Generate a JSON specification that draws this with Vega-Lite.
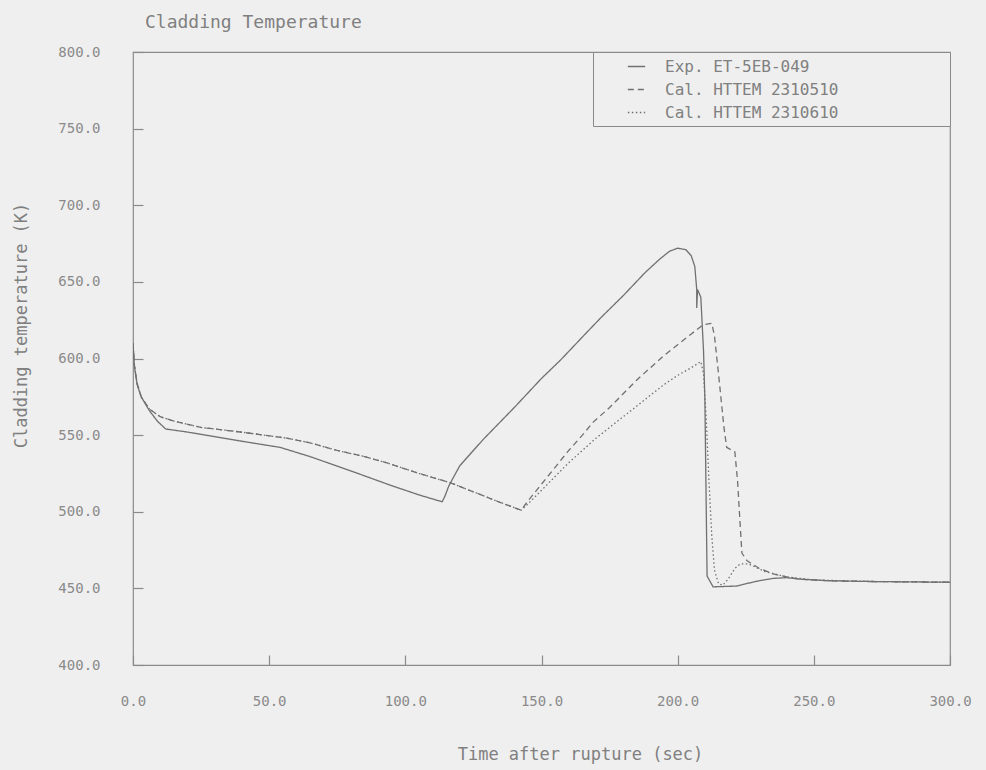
{
  "$schema": "https://vega.github.io/schema/vega-lite/v6.json",
  "autosize": {"type": "none"},
  "padding": {"left": 133, "top": 52, "right": 36, "bottom": 105},
  "width": 817,
  "height": 613,
  "background": "#efefef",
  "title": {
    "text": "Cladding Temperature",
    "anchor": "start",
    "frame": "group",
    "dx": 12,
    "offset": 13,
    "font": "DejaVu Sans Mono",
    "fontSize": 18,
    "fontWeight": "normal",
    "color": "#808080"
  },
  "config": {
    "view": {"stroke": "#8a8a8a", "strokeWidth": 1.2, "fill": "#efefef"},
    "axis": {
      "grid": false,
      "domain": false,
      "ticks": true,
      "zindex": 1,
      "offset": -10,
      "tickColor": "#8a8a8a",
      "tickWidth": 1.2,
      "tickSize": 10,
      "labelFlush": false,
      "labelFont": "DejaVu Sans Mono",
      "labelFontSize": 14,
      "labelColor": "#8a8a8a",
      "titleFont": "DejaVu Sans Mono",
      "titleFontSize": 17,
      "titleFontWeight": "normal",
      "titleColor": "#808080"
    },
    "legend": {
      "labelFont": "DejaVu Sans Mono",
      "labelFontSize": 16,
      "labelColor": "#808080"
    }
  },
  "data": {
    "values": [
      {"s": "Exp. ET-5EB-049", "t": 0, "T": 610},
      {"s": "Exp. ET-5EB-049", "t": 0.5, "T": 595},
      {"s": "Exp. ET-5EB-049", "t": 1.5, "T": 583},
      {"s": "Exp. ET-5EB-049", "t": 3, "T": 575},
      {"s": "Exp. ET-5EB-049", "t": 6, "T": 566},
      {"s": "Exp. ET-5EB-049", "t": 9, "T": 559},
      {"s": "Exp. ET-5EB-049", "t": 12, "T": 554},
      {"s": "Exp. ET-5EB-049", "t": 20, "T": 552},
      {"s": "Exp. ET-5EB-049", "t": 30, "T": 549},
      {"s": "Exp. ET-5EB-049", "t": 40, "T": 546},
      {"s": "Exp. ET-5EB-049", "t": 54, "T": 542},
      {"s": "Exp. ET-5EB-049", "t": 65, "T": 536},
      {"s": "Exp. ET-5EB-049", "t": 81, "T": 526},
      {"s": "Exp. ET-5EB-049", "t": 95, "T": 517},
      {"s": "Exp. ET-5EB-049", "t": 105, "T": 511},
      {"s": "Exp. ET-5EB-049", "t": 113.5, "T": 506.5},
      {"s": "Exp. ET-5EB-049", "t": 114.5, "T": 510},
      {"s": "Exp. ET-5EB-049", "t": 116, "T": 517},
      {"s": "Exp. ET-5EB-049", "t": 120, "T": 530},
      {"s": "Exp. ET-5EB-049", "t": 128.5, "T": 547},
      {"s": "Exp. ET-5EB-049", "t": 140, "T": 568},
      {"s": "Exp. ET-5EB-049", "t": 150, "T": 587},
      {"s": "Exp. ET-5EB-049", "t": 157, "T": 599},
      {"s": "Exp. ET-5EB-049", "t": 165, "T": 614},
      {"s": "Exp. ET-5EB-049", "t": 172, "T": 627},
      {"s": "Exp. ET-5EB-049", "t": 180, "T": 641},
      {"s": "Exp. ET-5EB-049", "t": 188, "T": 656},
      {"s": "Exp. ET-5EB-049", "t": 193.5, "T": 665},
      {"s": "Exp. ET-5EB-049", "t": 197, "T": 670},
      {"s": "Exp. ET-5EB-049", "t": 200, "T": 672},
      {"s": "Exp. ET-5EB-049", "t": 203, "T": 671},
      {"s": "Exp. ET-5EB-049", "t": 205, "T": 667},
      {"s": "Exp. ET-5EB-049", "t": 206.3, "T": 660},
      {"s": "Exp. ET-5EB-049", "t": 207, "T": 645},
      {"s": "Exp. ET-5EB-049", "t": 207, "T": 633},
      {"s": "Exp. ET-5EB-049", "t": 207.3, "T": 645},
      {"s": "Exp. ET-5EB-049", "t": 208.5, "T": 640},
      {"s": "Exp. ET-5EB-049", "t": 209.5, "T": 605},
      {"s": "Exp. ET-5EB-049", "t": 210, "T": 573},
      {"s": "Exp. ET-5EB-049", "t": 210.8, "T": 458},
      {"s": "Exp. ET-5EB-049", "t": 213, "T": 451},
      {"s": "Exp. ET-5EB-049", "t": 221.5, "T": 451.5},
      {"s": "Exp. ET-5EB-049", "t": 225, "T": 453},
      {"s": "Exp. ET-5EB-049", "t": 230, "T": 455},
      {"s": "Exp. ET-5EB-049", "t": 235, "T": 456.5},
      {"s": "Exp. ET-5EB-049", "t": 240, "T": 457},
      {"s": "Exp. ET-5EB-049", "t": 245, "T": 456},
      {"s": "Exp. ET-5EB-049", "t": 255, "T": 455},
      {"s": "Exp. ET-5EB-049", "t": 270, "T": 454.5},
      {"s": "Exp. ET-5EB-049", "t": 300, "T": 454},

      {"s": "Cal. HTTEM 2310510", "t": 0, "T": 610},
      {"s": "Cal. HTTEM 2310510", "t": 0.5, "T": 596},
      {"s": "Cal. HTTEM 2310510", "t": 1.5, "T": 584},
      {"s": "Cal. HTTEM 2310510", "t": 3, "T": 575},
      {"s": "Cal. HTTEM 2310510", "t": 6, "T": 567},
      {"s": "Cal. HTTEM 2310510", "t": 10, "T": 562},
      {"s": "Cal. HTTEM 2310510", "t": 15.4, "T": 559},
      {"s": "Cal. HTTEM 2310510", "t": 25, "T": 555},
      {"s": "Cal. HTTEM 2310510", "t": 35, "T": 553},
      {"s": "Cal. HTTEM 2310510", "t": 44, "T": 551},
      {"s": "Cal. HTTEM 2310510", "t": 56.5, "T": 548},
      {"s": "Cal. HTTEM 2310510", "t": 65, "T": 545},
      {"s": "Cal. HTTEM 2310510", "t": 75, "T": 540},
      {"s": "Cal. HTTEM 2310510", "t": 85, "T": 536},
      {"s": "Cal. HTTEM 2310510", "t": 93, "T": 532},
      {"s": "Cal. HTTEM 2310510", "t": 105, "T": 525},
      {"s": "Cal. HTTEM 2310510", "t": 116.4, "T": 519},
      {"s": "Cal. HTTEM 2310510", "t": 125, "T": 513},
      {"s": "Cal. HTTEM 2310510", "t": 135, "T": 506},
      {"s": "Cal. HTTEM 2310510", "t": 142.5, "T": 501},
      {"s": "Cal. HTTEM 2310510", "t": 145, "T": 507},
      {"s": "Cal. HTTEM 2310510", "t": 150, "T": 518},
      {"s": "Cal. HTTEM 2310510", "t": 155, "T": 529},
      {"s": "Cal. HTTEM 2310510", "t": 160, "T": 540},
      {"s": "Cal. HTTEM 2310510", "t": 165, "T": 550},
      {"s": "Cal. HTTEM 2310510", "t": 169, "T": 558.5},
      {"s": "Cal. HTTEM 2310510", "t": 175, "T": 568},
      {"s": "Cal. HTTEM 2310510", "t": 180, "T": 577},
      {"s": "Cal. HTTEM 2310510", "t": 185, "T": 586},
      {"s": "Cal. HTTEM 2310510", "t": 190, "T": 594},
      {"s": "Cal. HTTEM 2310510", "t": 195, "T": 602},
      {"s": "Cal. HTTEM 2310510", "t": 200, "T": 609},
      {"s": "Cal. HTTEM 2310510", "t": 205, "T": 616},
      {"s": "Cal. HTTEM 2310510", "t": 209.3, "T": 622},
      {"s": "Cal. HTTEM 2310510", "t": 212.5, "T": 623},
      {"s": "Cal. HTTEM 2310510", "t": 213.5, "T": 615},
      {"s": "Cal. HTTEM 2310510", "t": 215, "T": 590},
      {"s": "Cal. HTTEM 2310510", "t": 217, "T": 555},
      {"s": "Cal. HTTEM 2310510", "t": 218, "T": 542},
      {"s": "Cal. HTTEM 2310510", "t": 221, "T": 539},
      {"s": "Cal. HTTEM 2310510", "t": 222, "T": 520},
      {"s": "Cal. HTTEM 2310510", "t": 223, "T": 490},
      {"s": "Cal. HTTEM 2310510", "t": 223.6, "T": 473},
      {"s": "Cal. HTTEM 2310510", "t": 225.5, "T": 468},
      {"s": "Cal. HTTEM 2310510", "t": 230, "T": 463},
      {"s": "Cal. HTTEM 2310510", "t": 235, "T": 459.5},
      {"s": "Cal. HTTEM 2310510", "t": 240, "T": 457.5},
      {"s": "Cal. HTTEM 2310510", "t": 245, "T": 456},
      {"s": "Cal. HTTEM 2310510", "t": 255, "T": 455},
      {"s": "Cal. HTTEM 2310510", "t": 270, "T": 454.5},
      {"s": "Cal. HTTEM 2310510", "t": 300, "T": 454},

      {"s": "Cal. HTTEM 2310610", "t": 0, "T": 610},
      {"s": "Cal. HTTEM 2310610", "t": 0.5, "T": 596},
      {"s": "Cal. HTTEM 2310610", "t": 1.5, "T": 584},
      {"s": "Cal. HTTEM 2310610", "t": 3, "T": 575},
      {"s": "Cal. HTTEM 2310610", "t": 6, "T": 567},
      {"s": "Cal. HTTEM 2310610", "t": 10, "T": 562},
      {"s": "Cal. HTTEM 2310610", "t": 15.4, "T": 559},
      {"s": "Cal. HTTEM 2310610", "t": 25, "T": 555},
      {"s": "Cal. HTTEM 2310610", "t": 35, "T": 553},
      {"s": "Cal. HTTEM 2310610", "t": 44, "T": 551},
      {"s": "Cal. HTTEM 2310610", "t": 56.5, "T": 548},
      {"s": "Cal. HTTEM 2310610", "t": 65, "T": 545},
      {"s": "Cal. HTTEM 2310610", "t": 75, "T": 540},
      {"s": "Cal. HTTEM 2310610", "t": 85, "T": 536},
      {"s": "Cal. HTTEM 2310610", "t": 93, "T": 532},
      {"s": "Cal. HTTEM 2310610", "t": 105, "T": 525},
      {"s": "Cal. HTTEM 2310610", "t": 116.4, "T": 519},
      {"s": "Cal. HTTEM 2310610", "t": 125, "T": 513},
      {"s": "Cal. HTTEM 2310610", "t": 135, "T": 506},
      {"s": "Cal. HTTEM 2310610", "t": 142.5, "T": 501},
      {"s": "Cal. HTTEM 2310610", "t": 145, "T": 505},
      {"s": "Cal. HTTEM 2310610", "t": 150, "T": 514},
      {"s": "Cal. HTTEM 2310610", "t": 155, "T": 523},
      {"s": "Cal. HTTEM 2310610", "t": 160, "T": 532},
      {"s": "Cal. HTTEM 2310610", "t": 165, "T": 540},
      {"s": "Cal. HTTEM 2310610", "t": 170, "T": 548},
      {"s": "Cal. HTTEM 2310610", "t": 175, "T": 555},
      {"s": "Cal. HTTEM 2310610", "t": 180, "T": 562},
      {"s": "Cal. HTTEM 2310610", "t": 185, "T": 569},
      {"s": "Cal. HTTEM 2310610", "t": 190, "T": 576},
      {"s": "Cal. HTTEM 2310610", "t": 195, "T": 583},
      {"s": "Cal. HTTEM 2310610", "t": 200, "T": 589},
      {"s": "Cal. HTTEM 2310610", "t": 205, "T": 594},
      {"s": "Cal. HTTEM 2310610", "t": 208.5, "T": 598},
      {"s": "Cal. HTTEM 2310610", "t": 209.5, "T": 590},
      {"s": "Cal. HTTEM 2310610", "t": 210.5, "T": 560},
      {"s": "Cal. HTTEM 2310610", "t": 211.5, "T": 520},
      {"s": "Cal. HTTEM 2310610", "t": 212.5, "T": 485},
      {"s": "Cal. HTTEM 2310610", "t": 213.5, "T": 462},
      {"s": "Cal. HTTEM 2310610", "t": 215, "T": 453},
      {"s": "Cal. HTTEM 2310610", "t": 216.5, "T": 452},
      {"s": "Cal. HTTEM 2310610", "t": 218.5, "T": 456},
      {"s": "Cal. HTTEM 2310610", "t": 221, "T": 463},
      {"s": "Cal. HTTEM 2310610", "t": 223, "T": 466},
      {"s": "Cal. HTTEM 2310610", "t": 226, "T": 466},
      {"s": "Cal. HTTEM 2310610", "t": 232, "T": 461},
      {"s": "Cal. HTTEM 2310610", "t": 240, "T": 457.5},
      {"s": "Cal. HTTEM 2310610", "t": 250, "T": 455.5},
      {"s": "Cal. HTTEM 2310610", "t": 270, "T": 454.5},
      {"s": "Cal. HTTEM 2310610", "t": 300, "T": 454}
    ]
  },
  "mark": {"type": "line", "color": "#707070", "strokeWidth": 1.3, "clip": true},
  "encoding": {
    "x": {
      "field": "t",
      "type": "quantitative",
      "scale": {"domain": [0, 300], "nice": false, "zero": false},
      "axis": {
        "values": [0, 50, 100, 150, 200, 250, 300],
        "format": ".1f",
        "labelPadding": 29,
        "title": "Time after rupture (sec)",
        "titlePadding": 38,
        "titleX": 447
      }
    },
    "y": {
      "field": "T",
      "type": "quantitative",
      "scale": {"domain": [400, 800], "nice": false, "zero": false},
      "axis": {
        "values": [400, 450, 500, 550, 600, 650, 700, 750, 800],
        "format": ".1f",
        "labelPadding": 33,
        "title": "Cladding temperature (K)",
        "titlePadding": 27,
        "titleY": 273
      }
    },
    "strokeDash": {
      "field": "s",
      "type": "nominal",
      "scale": {
        "domain": ["Exp. ET-5EB-049", "Cal. HTTEM 2310510", "Cal. HTTEM 2310610"],
        "range": [[1, 0], [6, 4], [1.5, 2.5]]
      },
      "legend": {
        "title": null,
        "orient": "top-right",
        "offset": 0,
        "strokeColor": "#8a8a8a",
        "fillColor": "#efefef",
        "padding": 5,
        "rowPadding": 5,
        "symbolType": "stroke",
        "symbolSize": 300,
        "symbolStrokeColor": "#707070",
        "symbolStrokeWidth": 1.3,
        "symbolOffset": 29,
        "labelOffset": 19,
        "labelLimit": 500,
        "labelExpr": "datum.label + '\u00a0\u00a0\u00a0\u00a0\u00a0\u00a0\u00a0\u00a0\u00a0\u00a0\u00a0\u200b'"
      }
    },
    "order": {"value": null}
  }
}
